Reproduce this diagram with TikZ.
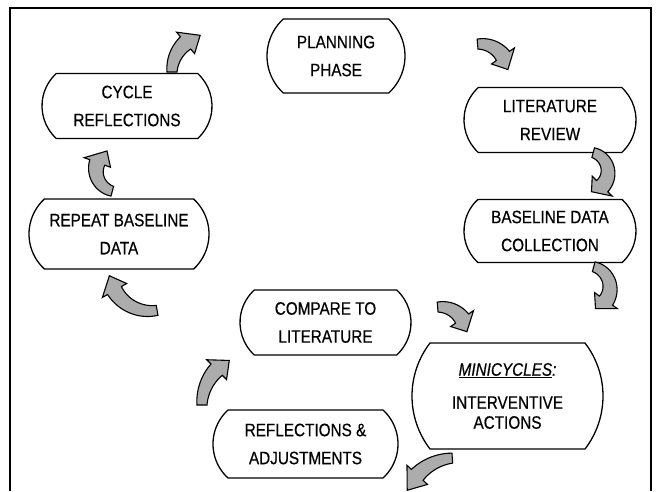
\documentclass[tikz,border=0pt]{standalone}
\usepackage{fontspec}
\setmainfont{Liberation Sans}[FakeStretch=0.85, FakeBold=0.5]
\usetikzlibrary{shapes.misc}
\tikzset{
  box/.style={draw, line width=1.3pt, rounded rectangle, rounded rectangle arc length=95,
    align=center, inner sep=0pt, font=\fontsize{18}{28}\selectfont},
  arrowsty/.style={draw=black, fill=gray!65, line width=1.1pt, line join=miter},
  frame/.style={line width=1.4pt}
}
% curved block arrow: centre x, centre y, radius, start angle, end angle, head extension (deg)
\newcommand{\barrow}[6]{%
  \filldraw[arrowsty]
    plot[domain=#4:#5, samples=25] ({#1+(#3-5-3*(\x-(#4))/((#5)-(#4)))*cos(\x)}, {#2+(#3-5-3*(\x-(#4))/((#5)-(#4)))*sin(\x)})
    -- ({#1+(#3-14)*cos(#5)}, {#2+(#3-14)*sin(#5)})
    -- ({#1+#3*cos((#5)+(#6))}, {#2+#3*sin((#5)+(#6))})
    -- ({#1+(#3+14)*cos(#5)}, {#2+(#3+14)*sin(#5)})
    -- plot[domain=#5:#4, samples=25] ({#1+(#3+5+3*(\x-(#4))/((#5)-(#4)))*cos(\x)}, {#2+(#3+5+3*(\x-(#4))/((#5)-(#4)))*sin(\x)})
    -- cycle;}
\begin{document}
\begin{tikzpicture}[x=1pt,y=-1pt]
\useasboundingbox (0,0) rectangle (656,491);
\draw[frame] (10,491) -- (10,8) -- (651,8) -- (651,491);

\node[box, minimum width=138pt, minimum height=74pt] (plan) at (336,56) {PLANNING\\PHASE};
\node[box, minimum width=172pt, minimum height=65pt] (lit) at (550,120) {LITERATURE\\REVIEW};
\node[box, minimum width=172pt, minimum height=63pt] (base) at (550,231) {BASELINE DATA\\COLLECTION};
\node[box, minimum width=170pt, minimum height=65pt] (cyc) at (127,106) {CYCLE\\REFLECTIONS};
\node[box, minimum width=180pt, minimum height=70pt] (rep) at (119,234) {REPEAT BASELINE\\DATA};
\node[box, minimum width=171pt, minimum height=65pt] (cmp) at (325.5,322.5) {COMPARE TO\\LITERATURE};
\node[box, minimum width=185pt, minimum height=68pt] (refl) at (305.5,444) {REFLECTIONS \&\\ADJUSTMENTS};
\node[box, rounded rectangle arc length=75, minimum width=191pt, minimum height=106pt,
  font=\fontsize{18}{20}\selectfont] (mini) at (507.5,396)
  {\underline{\textit{MINICYCLES}}\textit{:}\\[13pt]INTERVENTIVE\\ACTIONS};

\barrow{210}{72}{38}{180}{230}{25}
\barrow{480}{72}{28}{-95}{-35}{30}
\barrow{588}{172}{20}{-75}{45}{35}
\barrow{588}{288}{22}{-75}{35}{35}
\barrow{440}{334}{27}{-95}{-35}{30}
\barrow{456}{511}{53}{-94}{-137}{-20}
\barrow{252}{405}{50}{180}{225}{18}
\barrow{150}{270}{41}{80}{150}{22}
\barrow{118}{170}{22}{105}{200}{40}
\end{tikzpicture}
\end{document}
